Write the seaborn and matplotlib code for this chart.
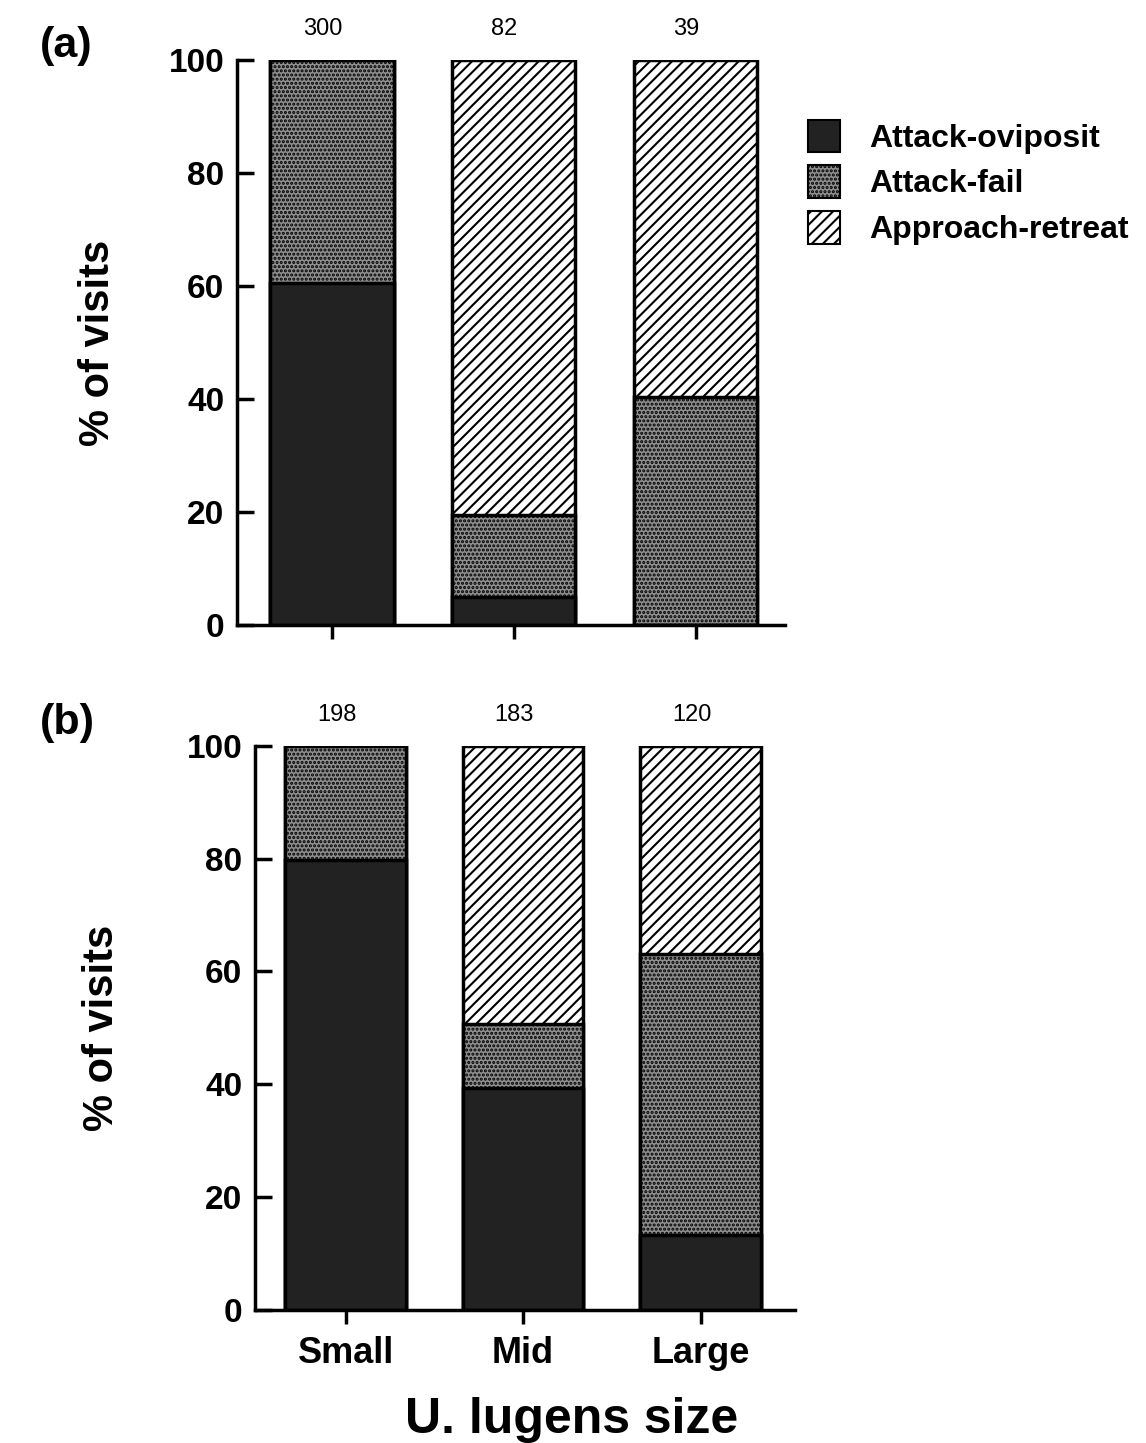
import matplotlib
matplotlib.use("Agg")
import matplotlib.pyplot as plt
from matplotlib.patches import Patch
import seaborn as sns
import numpy as np

# data (% of visits)
sizes = ["Small", "Mid", "Large"]
oviposit_a = [60.5, 5.0, 0.0]
fail_a = [39.5, 14.5, 40.4]
retreat_a = [0.0, 80.5, 59.6]
counts_a = [300, 82, 39]

oviposit_b = [79.8, 39.4, 13.3]
fail_b = [20.2, 11.3, 49.8]
retreat_b = [0.0, 49.3, 36.9]
counts_b = [198, 183, 120]

sns.set_style("ticks")
plt.rcParams["font.family"] = ["Liberation Sans", "DejaVu Sans"]
plt.rcParams["hatch.linewidth"] = 1.5
plt.rcParams["text.color"] = "black"
plt.rcParams["axes.labelcolor"] = "black"
plt.rcParams["xtick.color"] = "black"
plt.rcParams["ytick.color"] = "black"
plt.rcParams["axes.edgecolor"] = "black"

fig = plt.figure(figsize=(11.46, 14.43), dpi=100)
ax_a = fig.add_axes([0.2068, 0.5669, 0.478, 0.3915])
ax_b = fig.add_axes([0.2225, 0.0922, 0.471, 0.391])

fail_face = "#8f8f8f"


def draw_panel(ax, ovi, fail, retreat, counts, xlim):
    ovi = np.array(ovi)
    fail = np.array(fail)
    retreat = np.array(retreat)
    total = ovi + fail + retreat
    # stacked by overdrawing cumulative heights
    sns.barplot(x=sizes, y=total, ax=ax, color="white", saturation=1,
                width=0.68, edgecolor="black", linewidth=2.5, hatch="///")
    sns.barplot(x=sizes, y=ovi + fail, ax=ax, color=fail_face, saturation=1,
                width=0.68, edgecolor="black", linewidth=2.5, hatch="....")
    sns.barplot(x=sizes, y=ovi, ax=ax, color="#222222", saturation=1,
                width=0.68, edgecolor="black", linewidth=2.5)
    for i, n in enumerate(counts):
        ax.text(i - 0.05, 103.5, str(n), ha="center", va="bottom", fontsize=17,
                clip_on=False)
    ax.set_ylim(0, 100)
    ax.set_xlim(*xlim)
    ax.set_yticks([0, 20, 40, 60, 80, 100])
    ax.tick_params(axis="y", labelsize=24, width=2.5, length=12,
                   direction="in", pad=9)
    ax.tick_params(axis="x", width=2.5, length=10)
    for lab in ax.get_yticklabels():
        lab.set_fontweight("bold")
    sns.despine(ax=ax)
    ax.spines["left"].set_linewidth(2.5)
    ax.spines["bottom"].set_linewidth(2.5)
    ax.set_ylabel("% of visits", fontsize=30, fontweight="bold")


draw_panel(ax_a, oviposit_a, fail_a, retreat_a, counts_a, (-0.52, 2.49))
draw_panel(ax_b, oviposit_b, fail_b, retreat_b, counts_b, (-0.51, 2.53))
ax_a.yaxis.set_label_coords(-0.217, 0.5)
ax_b.yaxis.set_label_coords(-0.246, 0.5)

ax_a.set_xticklabels([])
ax_a.set_xlabel("")
ax_b.set_xticks(range(len(sizes)))
ax_b.set_xticklabels(sizes, fontsize=26, fontweight="bold")
ax_b.tick_params(axis="x", pad=9)
ax_b.set_xlabel("U. lugens size", fontsize=36, fontweight="bold")
ax_b.xaxis.set_label_coords(0.587, -0.195)
ax_b.xaxis.label.set_va("center")

fig.text(0.035, 0.968, "(a)", fontsize=31, fontweight="bold", va="center")
fig.text(0.035, 0.499, "(b)", fontsize=31, fontweight="bold", va="center")

handles = [
    Patch(facecolor="#222222", edgecolor="black", linewidth=1.5),
    Patch(facecolor=fail_face, edgecolor="black", linewidth=1.5, hatch="...."),
    Patch(facecolor="white", edgecolor="black", linewidth=1.5, hatch="///"),
]
labels = ["Attack-oviposit", "Attack-fail", "Approach-retreat"]
fig.legend(handles, labels, loc="upper left", bbox_to_anchor=(0.68, 0.937),
           frameon=False, prop={"size": 23, "weight": "bold"},
           handlelength=1.0, handleheight=1.2, handletextpad=0.9,
           labelspacing=0.36)

fig.savefig("out.png", dpi=100)
